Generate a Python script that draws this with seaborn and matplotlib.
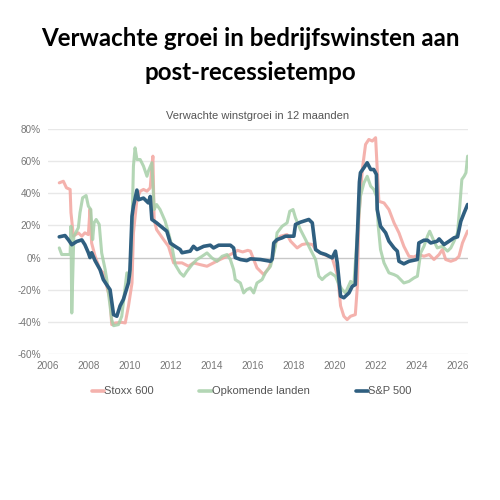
import matplotlib
matplotlib.use("Agg")
import matplotlib.pyplot as plt
import seaborn as sns
import pandas as pd
import numpy as np

# ---- data ----
sp_years = [2006.55, 2006.83, 2007.0, 2007.16, 2007.4, 2007.65, 2007.8, 2007.97, 2008.05, 2008.13,
            2008.3, 2008.54, 2008.7, 2008.87, 2009.03, 2009.2, 2009.36, 2009.52, 2009.68, 2009.93,
            2010.0, 2010.1, 2010.17, 2010.34, 2010.42, 2010.66, 2010.9, 2010.99, 2011.07, 2011.3,
            2011.55, 2011.8, 2011.97, 2012.2, 2012.45, 2012.54, 2012.94, 2013.1, 2013.27, 2013.6,
            2013.92, 2014.08, 2014.33, 2014.9, 2015.06, 2015.14, 2015.39, 2015.7, 2015.88, 2016.37,
            2016.86, 2016.94, 2017.02, 2017.18, 2017.43, 2017.59, 2018.0, 2018.08, 2018.32, 2018.73,
            2018.9, 2019.06, 2019.3, 2019.55, 2019.87, 2020.03, 2020.12, 2020.28, 2020.44, 2020.69,
            2020.85, 2021.0, 2021.12, 2021.2, 2021.25, 2021.42, 2021.58, 2021.75, 2021.9, 2022.03,
            2022.07, 2022.23, 2022.48, 2022.64, 2022.89, 2023.05, 2023.13, 2023.37, 2023.62, 2024.03,
            2024.1, 2024.35, 2024.52, 2024.68, 2025.0, 2025.09, 2025.33, 2025.58, 2025.82, 2025.99,
            2026.15, 2026.31, 2026.48]
sp_values = [12.9, 13.7, 11, 8, 10, 11, 8, 3, 0, 3,
             -2, -7.5, -13.7, -17, -20, -35.5, -36.5, -30, -26, -15.6,
             -7.5, 25.7, 32, 42, 36, 37, 34, 38, 23.7, 21.6,
             19, 16.4, 9, 7, 5, 3, 4, 7, 5, 7,
             7.7, 6, 7.7, 7.7, 6, 0, -1.2, -1.9, -0.8, -1.2,
             -2.3, -1, 9.1, 11.2, 12.3, 13.3, 13.3, 20.6, 22, 23.7,
             21.6, 5, 2.9, 1.9, -0.2, 4, -3.3, -24, -25, -22,
             -17.9, -16.8, 20, 47, 52.8, 55.9, 59, 54.8, 54.8, 51.7,
             29.9, 19.5, 15.4, 10.2, 6, 4, -2.3, -3.9, -2.3, -1.2,
             9.1, 10.8, 10.8, 9.1, 10.2, 11.6, 8.1, 10.2, 12.3, 12.9,
             22.6, 27.8, 33]

stoxx_years = [2006.55, 2006.75, 2006.9, 2007.08, 2007.12, 2007.24, 2007.48, 2007.65, 2007.8, 2007.97,
               2008.05, 2008.13, 2008.3, 2008.54, 2008.7, 2008.87, 2009.03, 2009.11, 2009.28, 2009.6,
               2009.77, 2009.93, 2010.1, 2010.17, 2010.34, 2010.5, 2010.66, 2010.83, 2010.99, 2011.07,
               2011.12, 2011.18, 2011.3, 2011.64, 2011.88, 2012.13, 2012.54, 2012.86, 2013.1, 2013.43,
               2013.76, 2014.08, 2014.4, 2014.73, 2015.06, 2015.25, 2015.5, 2015.75, 2015.88, 2016.04,
               2016.2, 2016.53, 2016.78, 2016.94, 2017.1, 2017.35, 2017.67, 2017.84, 2018.16, 2018.4,
               2018.65, 2018.9, 2019.14, 2019.46, 2019.87, 2020.14, 2020.28, 2020.44, 2020.6, 2020.77,
               2021.0, 2021.1, 2021.17, 2021.34, 2021.5, 2021.66, 2021.83, 2021.99, 2022.07, 2022.15,
               2022.4, 2022.64, 2022.89, 2023.13, 2023.37, 2023.62, 2023.86, 2024.1, 2024.35, 2024.6,
               2024.84, 2025.09, 2025.25, 2025.41, 2025.66, 2025.9, 2026.06, 2026.23, 2026.48]
stoxx_values = [46.5, 47.5, 43.4, 42.4, 28, 13.3, 15.4, 13.3, 15.4, 14.3,
                30, 9, 0.8, -7.5, -9.5, -17.9, -26, -41.7, -40.7, -40.3,
                -40.7, -30, -15.8, 15.4, 36, 41.3, 42.4, 41.3, 43.4, 56.9,
                63.1, 23.7, 17.4, 11.2, 7, -3.3, -3.3, -5.4, -3.3, -4.4,
                -5.4, -3.3, -1.2, 0.8, 2.9, 4.5, 3.5, 4.5, 4, -1.2,
                -6.4, -10.6, -6.4, -1.2, 9.1, 13.3, 14.3, 10.2, 6, 8.1,
                8.7, 8.1, 4, 1.9, -0.2, -11.6, -30, -36.5, -38.6, -36.5,
                -35.5, -17.9, 23.7, 54.8, 70.4, 73.5, 72.5, 74.6, 54.8, 35,
                34, 29.9, 21.6, 15.4, 7, 0.8, 0.4, 1.9, 0.8, 1.9,
                -1.2, 1.9, 5, -1.2, -2.3, -1.2, 0.8, 9.1, 16.5]

em_years = [2006.55, 2006.67, 2006.91, 2007.08, 2007.12, 2007.16, 2007.26, 2007.48, 2007.56, 2007.69,
            2007.86, 2007.97, 2008.09, 2008.18, 2008.25, 2008.35, 2008.5, 2008.62, 2008.79, 2008.87,
            2008.95, 2009.11, 2009.2, 2009.44, 2009.6, 2009.77, 2009.85, 2010.0, 2010.1, 2010.17,
            2010.25, 2010.34, 2010.5, 2010.66, 2010.83, 2010.9, 2011.07, 2011.18, 2011.3, 2011.47,
            2011.72, 2011.88, 2012.05, 2012.21, 2012.45, 2012.62, 2012.78, 2013.03, 2013.27, 2013.52,
            2013.76, 2014.0, 2014.25, 2014.5, 2014.74, 2014.9, 2015.06, 2015.14, 2015.39, 2015.55,
            2015.7, 2015.88, 2016.04, 2016.2, 2016.45, 2016.61, 2016.86, 2017.1, 2017.18, 2017.43,
            2017.67, 2017.8, 2017.96, 2018.08, 2018.32, 2018.57, 2018.81, 2019.06, 2019.22, 2019.38,
            2019.55, 2019.79, 2020.03, 2020.2, 2020.36, 2020.52, 2020.77, 2020.93, 2021.09, 2021.25,
            2021.42, 2021.58, 2021.75, 2021.9, 2022.03, 2022.12, 2022.23, 2022.4, 2022.64, 2022.89,
            2023.05, 2023.21, 2023.37, 2023.62, 2023.86, 2024.03, 2024.19, 2024.35, 2024.52, 2024.63,
            2024.84, 2025.0, 2025.25, 2025.5, 2025.66, 2025.82, 2025.99, 2026.1, 2026.2, 2026.31,
            2026.4, 2026.48]
em_values = [6, 1.9, 1.9, 1.9, 19.5, -34.5, 13.3, 18.5, 27.8, 37.2,
             38.6, 32, 29.9, 11.2, 21.6, 23.7, 20.6, 2.9, -7.5, -13.7,
             -22, -38.6, -42.4, -41.7, -36.5, -17.9, -9.5, -11.6, 19.5, 56.9,
             68.3, 61, 61, 56.9, 50.6, 53.8, 59, 29.9, 33, 29.9,
             22.6, 15.4, 7, -4.4, -9.5, -11.6, -8.5, -4.4, -1.2, 0.8,
             2.9, -0.2, -2.3, 0.8, 1.9, -1.2, -7.5, -13.7, -15.8, -22,
             -19.9, -18.9, -22, -15.8, -13.7, -9.5, -5.4, 7, 15.4, 19.5,
             21.6, 28.8, 29.9, 24.7, 17.4, 11.2, 5, -1.2, -11.6, -13.7,
             -11.6, -9.5, -11.6, -16.8, -19.9, -22, -14.8, -16.8, 13.3, 38.2,
             46.5, 50.6, 44.4, 42.4, 38.2, 19.5, 5, -3.3, -9.5, -10.6,
             -11.6, -13.7, -15.8, -14.8, -12.7, -11.6, 2.9, 7, 13.3, 16.4,
             10.2, 6, 7, 4, 6, 10.2, 15.4, 32, 48.6, 50.6,
             52.8, 63.1]

series_names = ["Stoxx 600", "Opkomende landen", "S&P 500"]
colors = ["#f3a59f", "#a6cfa8", "#2f5f80"]
y_ticks = [-60, -40, -20, 0, 20, 40, 60, 80]
x_ticks = list(range(2006, 2027, 2))

df = pd.concat([
    pd.DataFrame({"year": stoxx_years, "value": stoxx_values, "series": series_names[0]}),
    pd.DataFrame({"year": em_years, "value": em_values, "series": series_names[1]}),
    pd.DataFrame({"year": sp_years, "value": sp_values, "series": series_names[2]}),
], ignore_index=True)

sns.set_theme(style="white")
plt.rcParams['font.family'] = ['Liberation Sans', 'DejaVu Sans']

fig = plt.figure(figsize=(5, 5), dpi=100)
ax = fig.add_axes([0.096, 0.292, 0.84, 0.45])

for y in y_ticks:
    ax.axhline(y, color="#e8e8e8" if y != 0 else "#c8c8c8", lw=1.0, zorder=0)

for name, col, lw, a in zip(series_names, colors, [2.2, 2.2, 2.6], [0.85, 0.85, 1.0]):
    sub = df[df.series == name]
    sns.lineplot(data=sub, x="year", y="value", ax=ax, color=col, lw=lw, alpha=a,
                 label=name, estimator=None, sort=False)

ax.set_xlim(2006, 2026.5)
ax.set_ylim(-60, 80)
ax.set_yticks(y_ticks)
ax.set_yticklabels([f"{v}%" for v in y_ticks])
ax.set_xticks(x_ticks)
ax.set_xticklabels([str(v) for v in x_ticks])
ax.tick_params(axis="both", labelsize=7.2, colors="#777777", length=0)
ax.tick_params(axis="x", pad=5)
ax.tick_params(axis="y", pad=5)
ax.set_xlabel("")
ax.set_ylabel("")
for s in ax.spines.values():
    s.set_visible(False)

ax.set_title("Verwachte winstgroei in 12 maanden", fontsize=8, color="#555555", pad=7)

leg = ax.legend(loc="upper center", bbox_to_anchor=(0.485, -0.1), ncol=3, frameon=False,
                fontsize=8, handlelength=1.1, handletextpad=0.05, columnspacing=4.1)
for t in leg.get_texts():
    t.set_color("#555555")
for h in leg.get_lines():
    h.set_linewidth(2.6)

fig.text(0.5, 0.908, "Verwachte groei in bedrijfswinsten aan", ha="center", va="baseline",
         fontsize=17.4, fontweight="bold", family=["Lato", "DejaVu Sans"], color="#000000")
fig.text(0.5, 0.84, "post-recessietempo", ha="center", va="baseline",
         fontsize=17.4, fontweight="bold", family=["Lato", "DejaVu Sans"], color="#000000")

fig.savefig("out.png", dpi=100, facecolor="white")
